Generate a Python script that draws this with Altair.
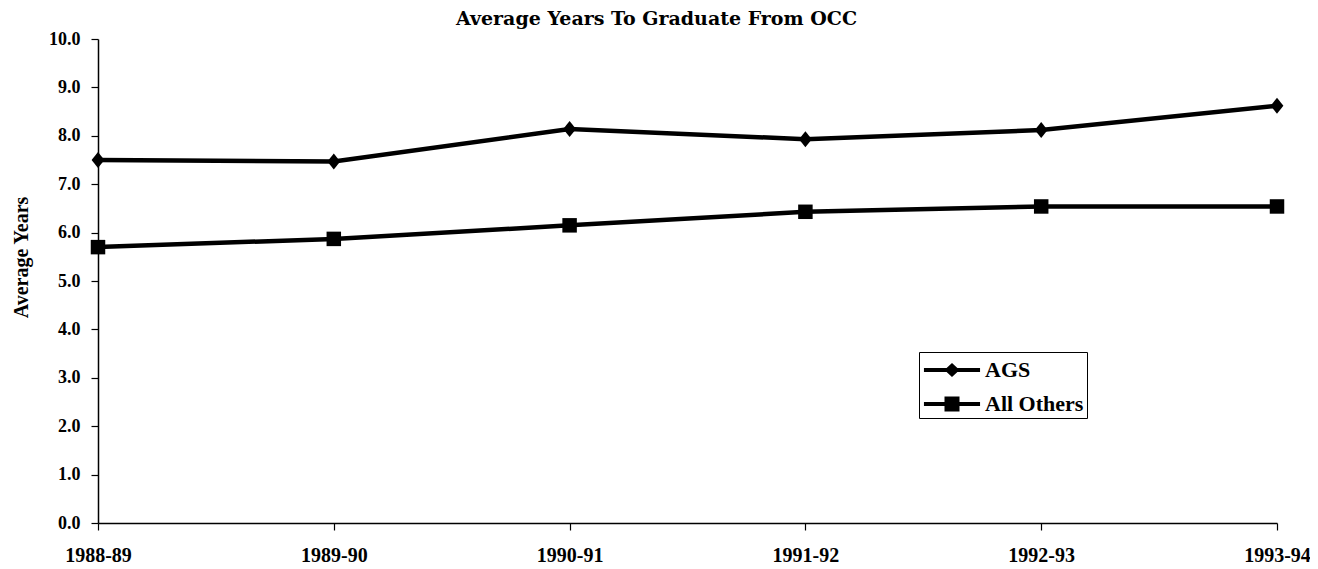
import altair as alt
import pandas as pd

years = ["1988-89", "1989-90", "1990-91", "1991-92", "1992-93", "1993-94"]
ags = [7.50, 7.47, 8.14, 7.93, 8.12, 8.62]
others = [5.70, 5.87, 6.15, 6.43, 6.54, 6.54]
series_names = ["AGS", "All Others"]

rows = []
for y, v in zip(years, ags):
    rows.append({"Year": y, "Series": series_names[0], "Value": v})
for y, v in zip(years, others):
    rows.append({"Year": y, "Series": series_names[1], "Value": v})
df = pd.DataFrame(rows)

SERIF = "Liberation Serif"

# legend symbols: a line segment with the marker in the middle (unit = 15 px)
ags_sym = ("M-1.87,-0.13 L-0.36,-0.13 L0,-0.47 L0.36,-0.13 L1.87,-0.13 L1.87,0.13 "
           "L0.36,0.13 L0,0.47 L-0.36,0.13 L-1.87,0.13 Z")
oth_sym = ("M-1.87,-0.13 L-0.5,-0.13 L-0.5,-0.5 L0.5,-0.5 L0.5,-0.13 L1.87,-0.13 "
           "L1.87,0.13 L0.5,0.13 L0.5,0.5 L-0.5,0.5 L-0.5,0.13 L-1.87,0.13 Z")

x_enc = alt.X("Year:N", sort=years, scale=alt.Scale(type="point", padding=0),
              axis=alt.Axis(title=None, labelAngle=0, labelFont=SERIF, labelFontSize=20,
                            labelFontWeight="bold", labelColor="black", tickSize=7,
                            labelPadding=15, domainColor="black", domainWidth=1.5,
                            tickColor="black", tickWidth=1.2))
y_enc = alt.Y("Value:Q", scale=alt.Scale(domain=[0, 10], nice=False),
              axis=alt.Axis(title="Average Years", format=".1f",
                            values=[0, 1, 2, 3, 4, 5, 6, 7, 8, 9, 10],
                            labelFont=SERIF, labelFontSize=18, labelFontWeight="bold",
                            labelColor="black", titleFont=SERIF, titleFontSize=20,
                            titleFontWeight="bold", titleColor="black",
                            titleX=-71, titleY=218, titleBaseline="alphabetic",
                            tickSize=7, labelPadding=11, domainColor="black",
                            domainWidth=1.5, tickColor="black", tickWidth=1.2, grid=False))

lines = alt.Chart(df).mark_line(color="black", strokeWidth=4.5).encode(
    x=x_enc, y=y_enc, detail="Series:N")

points = alt.Chart(df).mark_point(filled=True, color="black", opacity=1).encode(
    x=x_enc, y=y_enc,
    shape=alt.Shape("Series:N", sort=series_names,
                    scale=alt.Scale(domain=series_names,
                                    range=["M-0.8,0 L0,-1 L0.8,0 L0,1 Z", "square"]),
                    legend=None),
    size=alt.condition(alt.datum.Series == "AGS", alt.value(256), alt.value(210)))

legend_layer = alt.Chart(df).mark_point(filled=True, color="black", opacity=0).encode(
    x=x_enc, y=y_enc,
    shape=alt.Shape("Series:N", sort=series_names,
                    scale=alt.Scale(domain=series_names, range=[ags_sym, oth_sym]),
                    legend=alt.Legend(
                        title=None, orient="none", legendX=821, legendY=313,
                        labelFont=SERIF, labelFontSize=22, labelFontWeight="bold",
                        labelColor="black", symbolSize=900, symbolFillColor="black",
                        symbolStrokeColor="black", symbolStrokeWidth=0, symbolOpacity=1,
                        symbolOffset=15, labelOffset=18,
                        strokeColor="black", padding=3, rowPadding=8)))

chart = alt.layer(lines, points, legend_layer).resolve_scale(shape="independent").properties(
    width=1179, height=484,
    title=alt.TitleParams("Average Years To Graduate From OCC", font="DejaVu Serif",
                          fontSize=19, fontWeight="bold", color="black", dx=-31, offset=1),
    autosize=alt.AutoSizeParams(type="none"),
    padding={"left": 90, "top": 31, "right": 33, "bottom": 45},
    background="white",
).configure_view(stroke=None)

chart.save("out.html", embed_options={"renderer": "svg", "actions": False})
